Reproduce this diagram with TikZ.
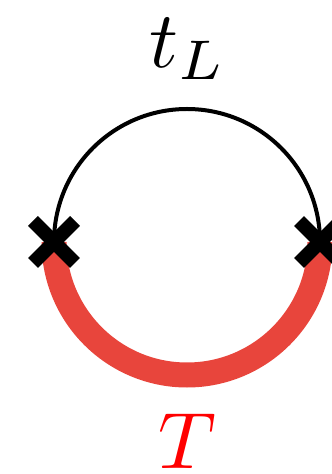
\documentclass[tikz,border=0pt]{standalone}
\usetikzlibrary{calc}
\definecolor{tred}{HTML}{E8453C}
\tikzset{
  cross/.style={line width=14pt, line cap=butt, black},
  lbl/.style={inner sep=0pt, anchor=base, scale=8}
}
\begin{document}
\begin{tikzpicture}[x=1pt,y=1pt]
\useasboundingbox (0,0) rectangle (332,474);
\coordinate (c) at (187,232);
\coordinate (l) at (54,232);
\coordinate (r) at (320,232);
\draw[tred, line width=25pt] (l) arc[start angle=180, end angle=360, radius=133];
\draw[black, line width=4pt] (l) arc[start angle=180, end angle=0, radius=133];
\foreach \p in {l,r}{
  \draw[cross] ($(\p)+(-21,-21)$) -- ($(\p)+(21,21)$);
  \draw[cross] ($(\p)+(-21,21)$) -- ($(\p)+(21,-21)$);
}
\node[lbl] (tl) at (188,406) {$t_L$};
\node[lbl, text=red] (T) at (187,5) {$T$};
\end{tikzpicture}
\end{document}
